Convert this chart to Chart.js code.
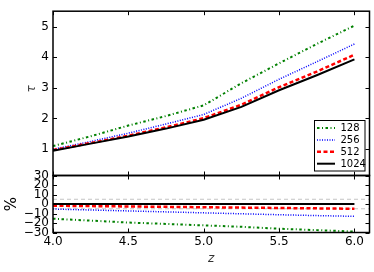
<!DOCTYPE html>
<html>
<head>
<meta charset="utf-8">
<script src="https://cdn.jsdelivr.net/npm/chart.js@4"></script>
<style>
  body { margin: 0; background: #fff; }
  #wrap { position: relative; width: 374px; height: 272px; }
  #wrap canvas { position: absolute; left: 0; top: 0; }
</style>
</head>
<body>
<div id="wrap">
  <canvas id="tauChart" width="374" height="272"></canvas>
  <canvas id="pctChart" width="374" height="272"></canvas>
</div>
<script>
// redshift samples
const z = [4.0, 4.25, 4.5, 4.75, 5.0, 5.25, 5.5, 5.75, 6.0];

// optical depth per resolution
const tau128  = [1.10, 1.42, 1.77, 2.08, 2.43, 3.15, 3.80, 4.43, 5.03];
const tau256  = [1.00, 1.25, 1.52, 1.82, 2.13, 2.66, 3.28, 3.85, 4.43];
const tau512  = [0.97, 1.20, 1.44, 1.71, 2.01, 2.45, 3.02, 3.53, 4.08];
const tau1024 = [0.95, 1.18, 1.41, 1.67, 1.96, 2.38, 2.92, 3.41, 3.93];

// percent difference relative to 1024
const pct128  = [-15.5, -17.5, -19.5, -21.0, -22.5, -24.0, -26.0, -27.5, -29.0];
const pct256  = [-5.3, -6.3, -7.3, -8.3, -9.3, -10.3, -11.3, -12.2, -13.0];
const pct512  = [-1.8, -2.2, -2.6, -3.0, -3.4, -3.8, -4.2, -4.6, -5.0];
const pct1024 = [0, 0, 0, 0, 0, 0, 0, 0, 0];
const refLevels = [5, -5];

const labels = ['128', '256', '512', '1024'];
const xTicks = [4.0, 4.5, 5.0, 5.5, 6.0];
const tauTicks = [1, 2, 3, 4, 5];
const pctTicks = [-30, -20, -10, 0, 10, 20, 30];

const X_MIN = 4.0, X_MAX = 6.1;
const FONT = 'DejaVu Sans';

const styles = [
  { color: '#008000', width: 2,   dash: [2.5, 2.5, 1, 2.5], order: 4 },
  { color: '#0000ff', width: 1.5, dash: [1, 1.5],           order: 3 },
  { color: '#ff0000', width: 2.5, dash: [4, 2.5],           order: 2 },
  { color: '#000000', width: 2,   dash: [],                 order: 1 }
];

function pts(ys) {
  return ys.map((y, i) => ({ x: z[i], y: y }));
}

function makeSets(series) {
  return series.map((ys, i) => ({
    label: labels[i],
    data: pts(ys),
    borderColor: styles[i].color,
    borderWidth: styles[i].width,
    borderDash: styles[i].dash,
    order: styles[i].order,
    pointRadius: 0,
    tension: 0,
    fill: false
  }));
}

function minus(v) {
  return v < 0 ? '\u2212' + Math.abs(v) : String(v);
}

// frame + matplotlib style inward ticks on all four sides
const frameTicks = {
  id: 'frameTicks',
  afterDatasetsDraw(chart) {
    const { ctx, chartArea: a, scales } = chart;
    const L = 4;
    ctx.save();
    ctx.strokeStyle = '#000';
    ctx.lineWidth = 1;
    ctx.beginPath();
    xTicks.forEach(v => {
      const px = Math.round(scales.x.getPixelForValue(v)) + 0.5;
      ctx.moveTo(px, a.top); ctx.lineTo(px, a.top + L);
      ctx.moveTo(px, a.bottom); ctx.lineTo(px, a.bottom - L);
    });
    scales.y.ticks.forEach(t => {
      const py = Math.round(scales.y.getPixelForValue(t.value)) + 0.5;
      ctx.moveTo(a.left, py); ctx.lineTo(a.left + L, py);
      ctx.moveTo(a.right, py); ctx.lineTo(a.right - L, py);
    });
    ctx.stroke();
    ctx.lineWidth = 1.5;
    ctx.strokeRect(a.left, a.top, a.right - a.left, a.bottom - a.top);
    ctx.restore();
  }
};

// legend box in lower right of the tau panel + axis title
const tauExtras = {
  id: 'tauExtras',
  afterDraw(chart) {
    const { ctx } = chart;
    ctx.save();
    ctx.fillStyle = '#fff';
    ctx.strokeStyle = '#000';
    ctx.lineWidth = 1;
    ctx.fillRect(314, 120.5, 51, 51);
    ctx.strokeRect(314.5, 120.5, 50.5, 50.5);
    const rows = [128, 140, 151.7, 163.7];
    chart.data.datasets.forEach((ds, i) => {
      const y = rows[i];
      ctx.beginPath();
      ctx.strokeStyle = ds.borderColor;
      ctx.lineWidth = ds.borderWidth;
      ctx.setLineDash(ds.borderDash);
      ctx.moveTo(317, y); ctx.lineTo(335, y);
      ctx.stroke();
      ctx.setLineDash([]);
      ctx.fillStyle = '#000';
      ctx.font = '10px ' + FONT;
      ctx.textBaseline = 'middle';
      ctx.textAlign = 'left';
      ctx.fillText(ds.label, 340.5, y + 0.5);
    });
    // y title
    ctx.translate(32, 89);
    ctx.rotate(-Math.PI / 2);
    ctx.fillStyle = '#444';
    ctx.font = 'italic 12px ' + FONT;
    ctx.textAlign = 'center';
    ctx.textBaseline = 'middle';
    ctx.fillText('\u03c4', 0, 0);
    ctx.restore();
  }
};

const pctExtras = {
  id: 'pctExtras',
  afterDraw(chart) {
    const { ctx, chartArea: a } = chart;
    ctx.save();
    ctx.fillStyle = '#333';
    ctx.font = 'italic 12px ' + FONT;
    ctx.textAlign = 'center';
    ctx.textBaseline = 'middle';
    ctx.fillText('z', (a.left + a.right) / 2, 259);
    ctx.translate(12, 204);
    ctx.rotate(-Math.PI / 2);
    ctx.fillStyle = '#000';
    ctx.font = '15px ' + FONT;
    ctx.fillText('%', 0, 0);
    ctx.restore();
  }
};

Chart.defaults.font.family = FONT;
Chart.defaults.color = '#000';

new Chart(document.getElementById('tauChart'), {
  type: 'line',
  data: { datasets: makeSets([tau128, tau256, tau512, tau1024]) },
  options: {
    animation: false,
    responsive: false,
    layout: { padding: { top: 4, right: 4.5, bottom: 96.5, left: 0 } },
    plugins: { legend: { display: false }, tooltip: { enabled: false } },
    scales: {
      x: {
        type: 'linear', min: X_MIN, max: X_MAX,
        grid: { display: false }, border: { display: false },
        ticks: { display: false },
        afterBuildTicks: s => { s.ticks = xTicks.map(v => ({ value: v })); },
        afterFit: s => { s.height = 0; }
      },
      y: {
        type: 'linear', min: 0.14, max: 5.5,
        grid: { display: false, drawTicks: false }, border: { display: false },
        ticks: { font: { size: 12 }, padding: 4, autoSkip: false },
        afterBuildTicks: s => { s.ticks = tauTicks.map(v => ({ value: v })); },
        afterFit: s => { s.width = 53; }
      }
    }
  },
  plugins: [frameTicks, tauExtras]
});

const pctSets = makeSets([pct128, pct256, pct512, pct1024]);
refLevels.forEach(lv => {
  pctSets.push({
    label: '',
    data: [{ x: X_MIN, y: lv }, { x: X_MAX, y: lv }],
    borderColor: '#c4c4c4',
    borderWidth: 1,
    borderDash: [4, 3],
    order: 9,
    pointRadius: 0,
    tension: 0,
    fill: false
  });
});

new Chart(document.getElementById('pctChart'), {
  type: 'line',
  data: { datasets: pctSets },
  options: {
    animation: false,
    responsive: false,
    layout: { padding: { top: 175.5, right: 4.5, bottom: 0, left: 0 } },
    plugins: { legend: { display: false }, tooltip: { enabled: false } },
    scales: {
      x: {
        type: 'linear', min: X_MIN, max: X_MAX,
        grid: { display: false, drawTicks: false }, border: { display: false },
        ticks: { font: { size: 12 }, padding: 2, autoSkip: false, maxRotation: 0,
                 callback: v => Number(v).toFixed(1) },
        afterBuildTicks: s => { s.ticks = xTicks.map(v => ({ value: v })); },
        afterFit: s => { s.height = 39.5; }
      },
      y: {
        type: 'linear', min: -30, max: 30,
        grid: { display: false, drawTicks: false }, border: { display: false },
        ticks: { font: { size: 12 }, padding: 4, autoSkip: false, callback: v => minus(v) },
        afterBuildTicks: s => { s.ticks = pctTicks.map(v => ({ value: v })); },
        afterFit: s => { s.width = 53; }
      }
    }
  },
  plugins: [frameTicks, pctExtras]
});
</script>
</body>
</html>
